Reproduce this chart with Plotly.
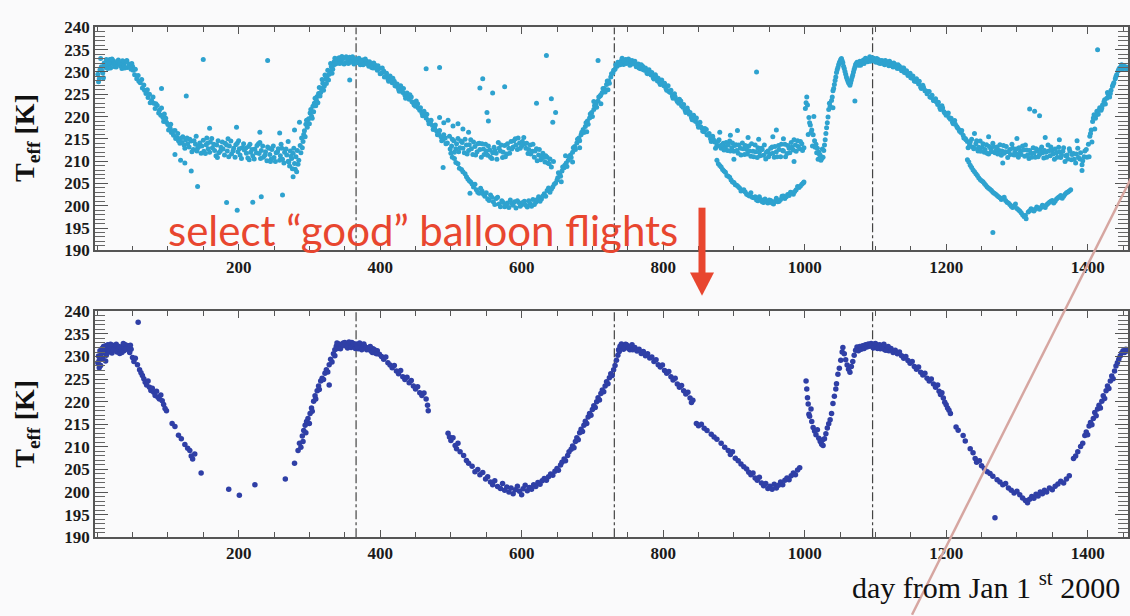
import plotly.graph_objects as go

# Effective temperature T_eff [K] per balloon flight, (day from Jan 1st 2000, T_eff)

# ---- all balloon flights ----
all_2000 = [
    (1, 229.5), (2, 227.8), (3, 228.5), (4, 230.5), (5, 233.0), (6, 231.2), (8, 229.8), (9, 228.7),
    (10, 232.0), (12, 231.0), (14, 232.4), (16, 231.5), (18, 232.8), (20, 231.9), (23, 232.5),
    (25, 231.2), (28, 232.0), (30, 232.7), (33, 231.4), (35, 230.8), (38, 231.6), (40, 232.3),
    (43, 231.0), (45, 231.8), (48, 230.6), (50, 231.3),
    (7, 230.2), (11, 231.5), (13, 232.8), (15, 230.8), (17, 232.1), (19, 230.9), (21, 232.9),
    (24, 231.6), (27, 231.1), (29, 232.4), (32, 232.0), (36, 232.5), (39, 230.9), (42, 232.6),
    (46, 231.1), (49, 231.9), (51, 230.4),
    (53, 229.4), (56, 228.5), (58, 229.2), (61, 227.6), (64, 226.4), (66, 227.1), (69, 225.2),
    (72, 224.3), (74, 225.0), (77, 223.6), (80, 223.0), (82, 221.8), (85, 222.5), (88, 221.4),
    (90, 220.3), (93, 219.8), (95, 220.6), (98, 218.7), (100, 218.2), (103, 217.5), (105, 216.4),
    (108, 215.8), (110, 216.9), (113, 215.3), (115, 214.6), (118, 215.1), (120, 214.2), (123, 213.6),
    (125, 214.8), (128, 213.9),
    (54, 230.6), (59, 227.9), (63, 228.3), (67, 225.9), (71, 226.0), (75, 223.1), (79, 224.4),
    (83, 222.9), (87, 220.8), (91, 221.9), (94, 218.9), (97, 219.6), (101, 217.0), (104, 218.3),
    (107, 216.8), (111, 215.1), (114, 216.2), (117, 214.0), (121, 215.5), (124, 212.9), (127, 215.2),
    (130, 213.2), (133, 214.5), (136, 212.6), (139, 213.8), (142, 212.9), (145, 214.1), (148, 213.4),
    (151, 212.2), (154, 213.7), (157, 212.8), (160, 214.3), (163, 213.0), (166, 212.4), (169, 213.6),
    (172, 211.9), (175, 213.1), (178, 212.7), (181, 214.0), (184, 212.3), (187, 213.4), (190, 211.6),
    (193, 212.9), (196, 213.7), (199, 212.1), (202, 211.4), (205, 213.0), (208, 212.5), (211, 211.8),
    (214, 213.3), (217, 212.0), (220, 211.2), (223, 212.7), (226, 213.5), (229, 211.7), (232, 212.4),
    (235, 210.9), (238, 212.1), (241, 213.2), (244, 211.5), (247, 212.6), (250, 210.8), (253, 211.9),
    (256, 212.8), (259, 211.2), (262, 210.4), (265, 212.0), (268, 211.4), (271, 209.8), (273, 212.3),
    (275, 210.6), (277, 211.8), (279, 209.5), (281, 211.0), (283, 212.4), (285, 210.2),
    (131, 214.9), (134, 212.1), (137, 214.6), (141, 212.3), (144, 213.3), (147, 211.8), (150, 214.7),
    (153, 211.7), (156, 214.0), (159, 212.0), (162, 215.1), (165, 213.8), (168, 211.2), (171, 214.6),
    (174, 212.2), (177, 214.3), (180, 211.4), (183, 213.6), (186, 211.0), (189, 214.5), (192, 212.3),
    (195, 210.9), (198, 214.0), (201, 212.8), (204, 210.6), (207, 213.9), (210, 212.9), (213, 210.7),
    (216, 213.8), (219, 212.6), (222, 210.5), (225, 211.9), (228, 213.9), (231, 210.6), (234, 213.4),
    (237, 211.3), (240, 210.1), (243, 212.9), (246, 210.5), (249, 213.4), (252, 209.9), (255, 212.1),
    (258, 210.2), (261, 212.9), (264, 209.6), (267, 212.7), (270, 210.0), (272, 208.9), (274, 211.1),
    (278, 212.9), (280, 208.2), (284, 209.3),
    (140, 215.6), (155, 215.2), (170, 210.8), (185, 215.0), (200, 214.6), (215, 210.3), (230, 214.2),
    (245, 209.9), (260, 213.8), (270, 214.4), (276, 208.3), (282, 207.6),
    (287, 213.5), (289, 215.2), (291, 214.4), (293, 216.8), (295, 218.3), (297, 217.6), (299, 219.5),
    (301, 220.8), (303, 220.1), (305, 222.3), (307, 223.0), (309, 222.4), (311, 224.5), (313, 225.2),
    (315, 224.6), (317, 226.3), (319, 227.5), (321, 226.8), (323, 228.4), (325, 229.0), (327, 228.2),
    (329, 230.1), (331, 231.2), (333, 230.6), (335, 232.3), (337, 231.8),
    (288, 211.9), (290, 213.0), (292, 216.0), (294, 215.5), (296, 219.2), (298, 218.5), (300, 218.4),
    (302, 221.6), (304, 219.6), (306, 221.1), (308, 224.1), (310, 223.6), (312, 223.1), (314, 226.5),
    (316, 225.4), (318, 228.3), (320, 225.9), (322, 229.3), (324, 227.4), (326, 230.4), (328, 229.5),
    (330, 231.9), (332, 229.7), (334, 231.5), (336, 233.1),
    (339, 232.9), (342, 233.2), (345, 232.4), (348, 233.0), (351, 232.1), (354, 232.8), (357, 233.3),
    (360, 232.5), (363, 231.8),
    (340, 232.0), (343, 231.9), (346, 233.5), (349, 231.8), (352, 233.4), (355, 231.9), (358, 232.2),
    (361, 233.4), (364, 232.7),
    (91, 226.3), (126, 224.6), (150, 232.8), (241, 232.6), (159, 217.4), (197, 217.6), (230, 216.5),
    (258, 216.3), (279, 217.0), (286, 218.7), (110, 211.5), (118, 210.2), (124, 209.6), (133, 207.8),
    (142, 204.3), (183, 200.7), (198, 199.0), (220, 200.8), (232, 202.0), (262, 202.4), (277, 206.5),
    (357, 228.2),
]

all_2001 = [
    (366, 232.9), (369, 232.2), (372, 231.6), (375, 232.7), (378, 231.9), (381, 232.4), (384, 231.3),
    (387, 231.8), (390, 230.9), (393, 231.5), (396, 230.4), (399, 230.8),
    (402, 229.7), (405, 230.2), (408, 229.0), (411, 228.4), (414, 229.1), (417, 227.6), (420, 227.9),
    (423, 226.8), (426, 226.2), (429, 226.9), (432, 225.4), (435, 224.8), (438, 225.3), (441, 223.9),
    (444, 224.4), (447, 223.1), (450, 222.3), (453, 222.9), (456, 221.4), (459, 220.8), (462, 221.2),
    (465, 219.7), (468, 219.1), (471, 218.6), (474, 218.0), (477, 217.4), (480, 216.7), (483, 216.1),
    (486, 215.5), (489, 214.8), (492, 215.2), (495, 214.1),
    (367, 232.1), (370, 233.1), (373, 232.4), (376, 231.6), (379, 232.9), (382, 231.8), (385, 232.3),
    (388, 231.0), (391, 232.0), (394, 230.9), (397, 231.4), (400, 229.6), (403, 230.9), (406, 228.9),
    (409, 229.7), (412, 227.9), (415, 228.2), (418, 228.6), (421, 226.9), (424, 227.3), (427, 225.7),
    (430, 226.0), (433, 226.3), (436, 224.1), (439, 224.5), (442, 224.9), (445, 223.3), (448, 222.6),
    (451, 223.5), (454, 221.9), (457, 222.0), (460, 220.2), (463, 220.4), (466, 220.5), (469, 218.4),
    (472, 219.2), (475, 217.1), (478, 218.1), (481, 215.9), (484, 216.9), (487, 214.6), (490, 215.9),
    (493, 213.9),
    (498, 215.6), (501, 213.4), (504, 214.6), (507, 212.8), (510, 215.1), (513, 213.0), (516, 214.2),
    (519, 211.9), (522, 213.6), (525, 212.4), (528, 214.8), (531, 211.5), (534, 213.3), (537, 212.1),
    (540, 214.0), (543, 210.9), (546, 212.7), (549, 213.8), (552, 211.3), (555, 212.5), (558, 210.6),
    (561, 213.1), (564, 211.8), (567, 214.2), (570, 212.3), (573, 210.8), (576, 213.5), (579, 211.6),
    (582, 212.9), (585, 214.4), (588, 213.2), (591, 215.0), (594, 212.6), (597, 214.1), (600, 213.4),
    (603, 215.3), (606, 212.9), (609, 211.7), (612, 213.6), (615, 212.2), (618, 210.9), (621, 212.8),
    (624, 211.4), (627, 210.3), (630, 211.8), (633, 209.8), (636, 210.9), (639, 209.4), (642, 208.7),
    (645, 209.9),
    (499, 212.7), (502, 214.9), (505, 212.0), (508, 213.9), (511, 212.1), (514, 214.5), (517, 212.9),
    (520, 214.9), (523, 211.6), (526, 213.7), (529, 212.8), (532, 214.3), (535, 211.4), (538, 213.9),
    (541, 212.6), (544, 213.9), (547, 211.5), (550, 212.3), (553, 213.4), (556, 210.9), (559, 211.9),
    (562, 212.4), (565, 210.4), (568, 212.9), (571, 213.6), (574, 212.0), (577, 211.0), (580, 213.9),
    (583, 211.8), (586, 212.7), (589, 214.6), (592, 213.6), (595, 215.2), (598, 212.9), (601, 214.4),
    (604, 213.9), (607, 214.0), (610, 212.6), (613, 211.6), (616, 213.8), (619, 212.3), (622, 210.1),
    (625, 212.6), (628, 211.0), (631, 210.8), (634, 211.2), (637, 209.6), (640, 210.5),
    (484, 219.8), (490, 218.6), (496, 219.2), (503, 217.9), (510, 218.4), (517, 217.2), (525, 216.5),
    (551, 220.9), (553, 219.0), (648, 220.9), (644, 218.7),
    (500, 211.8), (505, 210.6), (510, 209.4), (515, 208.1), (520, 207.2), (524, 206.0), (528, 205.3),
    (532, 204.2), (536, 203.6), (540, 202.8), (544, 203.3), (548, 202.1), (552, 201.5), (556, 202.4),
    (560, 200.9), (564, 201.6), (568, 200.4), (572, 201.1), (576, 199.8), (580, 200.6), (584, 201.3),
    (588, 200.1), (592, 199.5), (596, 200.7), (600, 200.2), (604, 201.0), (608, 199.7), (612, 200.5),
    (616, 201.4), (620, 200.8), (624, 202.0), (628, 201.5), (632, 202.7), (636, 203.4), (640, 203.0),
    (644, 204.2), (648, 205.1),
    (502, 210.9), (507, 209.7), (512, 208.4), (517, 207.6), (522, 206.5), (526, 205.6), (530, 204.9),
    (534, 204.8), (538, 203.0), (542, 203.9), (546, 202.6), (550, 202.9), (554, 201.2), (558, 201.9),
    (562, 200.3), (566, 201.9), (570, 199.8), (574, 200.7), (578, 200.1), (582, 199.6), (586, 200.5),
    (590, 200.9), (594, 201.1), (598, 199.9), (602, 200.8), (606, 200.1), (610, 201.1), (614, 199.9),
    (618, 200.3), (622, 201.4), (626, 201.0), (630, 202.2), (634, 202.1), (638, 204.0), (642, 203.7),
    (646, 204.8), (650, 205.8),
    (651, 206.3), (654, 207.0), (657, 207.8), (660, 208.5), (663, 209.6), (666, 210.2), (669, 211.4),
    (672, 212.0), (675, 213.3), (678, 214.1), (681, 215.2), (684, 215.9), (687, 217.1), (690, 217.8),
    (693, 219.0), (696, 219.7), (699, 220.9), (702, 221.6), (705, 222.8), (708, 223.5), (711, 224.6),
    (714, 225.4), (717, 226.3), (720, 227.2), (723, 228.0), (726, 228.9), (729, 229.8),
    (652, 207.4), (655, 206.6), (658, 208.7), (661, 209.1), (664, 208.8), (667, 211.0), (670, 210.8),
    (673, 213.0), (676, 212.6), (679, 214.9), (682, 214.6), (685, 216.5), (688, 216.4), (691, 218.6),
    (694, 218.3), (697, 220.6), (700, 220.0), (703, 222.4), (706, 222.1), (709, 224.4), (712, 224.9),
    (715, 226.3), (718, 225.5), (721, 228.0), (724, 227.5), (727, 229.6), (730, 230.4),
    (656, 205.4), (662, 211.2), (672, 209.8), (682, 213.0), (692, 216.6), (702, 223.4), (712, 222.9),
    (722, 226.0),
    (465, 230.7), (484, 231.0), (541, 226.4), (545, 228.5), (559, 225.3), (576, 226.7), (621, 223.0),
    (635, 233.7), (642, 224.0), (708, 232.6), (489, 208.6), (527, 202.8),
]

all_2002 = [
    (732, 230.6), (735, 231.3), (738, 232.0), (741, 232.5), (744, 231.7), (747, 232.8), (750, 232.3),
    (753, 231.5), (756, 232.6), (759, 231.9), (762, 231.2), (765, 231.8), (768, 230.7), (771, 231.3),
    (774, 230.4), (777, 229.8), (780, 230.5), (783, 229.3), (786, 228.7), (789, 229.4), (792, 228.0),
    (795, 227.6), (798, 228.2),
    (801, 226.9), (804, 226.3), (807, 226.9), (810, 225.4), (813, 224.6), (816, 225.1), (819, 223.8),
    (822, 223.0), (825, 223.5), (828, 222.1), (831, 221.4), (834, 221.9), (837, 220.5), (840, 219.8),
    (843, 220.3), (846, 218.9), (849, 218.2), (852, 218.7), (855, 217.4), (858, 216.6), (861, 217.1),
    (864, 215.8), (867, 215.0), (870, 215.6),
    (733, 231.6), (736, 232.2), (739, 231.6), (742, 233.1), (745, 232.4), (748, 231.9), (751, 232.9),
    (754, 232.4), (757, 231.8), (760, 232.4), (763, 231.6), (766, 230.9), (769, 231.6), (772, 230.5),
    (775, 230.9), (778, 229.6), (781, 229.9), (784, 229.9), (787, 228.4), (790, 228.9), (793, 228.6),
    (796, 227.2), (799, 227.4), (802, 227.5), (805, 225.9), (808, 225.6), (811, 225.9), (814, 224.1),
    (817, 224.4), (820, 223.4), (823, 223.9), (826, 222.4), (829, 222.7), (832, 220.9), (835, 221.3),
    (838, 220.9), (841, 219.3), (844, 219.2), (847, 219.7), (850, 217.6), (853, 217.7), (856, 216.7),
    (859, 217.3), (862, 215.9), (865, 216.2), (868, 214.4), (871, 214.9),
    (873, 214.3), (876, 213.5), (879, 214.8), (882, 212.9), (885, 214.0), (888, 213.2), (891, 212.4),
    (894, 214.5), (897, 213.0), (900, 212.2), (903, 213.7), (906, 211.8), (909, 212.9), (912, 214.1),
    (915, 211.5), (918, 212.6), (921, 213.4), (924, 211.1), (927, 212.2), (930, 213.6), (933, 210.8),
    (936, 212.0), (939, 212.9), (942, 211.3), (945, 210.5), (948, 212.3), (951, 211.6), (954, 213.2),
    (957, 210.9), (960, 212.1), (963, 213.5), (966, 211.0), (969, 212.4), (972, 213.8), (975, 211.7),
    (978, 212.9), (981, 214.2), (984, 212.5), (987, 213.6), (990, 214.6), (993, 212.8), (996, 213.9),
    (874, 212.9), (877, 214.4), (880, 213.4), (883, 213.7), (886, 212.5), (889, 214.2), (892, 213.6),
    (895, 212.3), (898, 214.1), (901, 213.5), (904, 212.4), (907, 213.6), (910, 211.4), (913, 212.8),
    (916, 213.5), (919, 211.6), (922, 212.3), (925, 213.9), (928, 211.0), (931, 212.1), (934, 213.0),
    (937, 211.2), (940, 212.6), (943, 213.6), (946, 212.0), (949, 211.0), (952, 212.9), (955, 211.8),
    (958, 213.3), (961, 211.0), (964, 212.6), (967, 213.8), (970, 212.3), (973, 211.0), (976, 213.5),
    (979, 211.9), (982, 213.2), (985, 214.8), (988, 212.2), (991, 213.3), (994, 214.4), (997, 212.4),
    (999, 213.0),
    (880, 216.5), (895, 215.8), (905, 216.9), (920, 215.3), (935, 214.9), (955, 215.5), (970, 215.0),
    (985, 209.9), (900, 210.4),
    (876, 210.2), (880, 209.0), (884, 208.1), (888, 207.5), (892, 206.6), (896, 205.8), (900, 205.2),
    (904, 204.6), (908, 204.0), (912, 203.5), (916, 203.1), (920, 202.4), (924, 202.9), (928, 201.8),
    (932, 201.3), (936, 202.0), (940, 200.9), (944, 201.5), (948, 200.6), (952, 201.2), (956, 200.4),
    (960, 201.7), (964, 201.0), (968, 202.1), (972, 201.6), (976, 202.5), (980, 203.0), (984, 202.6),
    (988, 203.6), (992, 204.1), (996, 204.8), (999, 205.3),
    (878, 209.4), (882, 208.7), (886, 207.8), (890, 206.8), (894, 206.4), (898, 205.3), (902, 204.7),
    (906, 204.3), (910, 203.3), (914, 203.6), (918, 202.6), (922, 202.2), (926, 201.9), (930, 202.0),
    (934, 201.1), (938, 201.4), (942, 200.7), (946, 201.0), (950, 201.3), (954, 200.6), (958, 201.0),
    (962, 200.9), (966, 201.4), (970, 202.2), (974, 202.0), (978, 202.3), (982, 202.9), (986, 203.2),
    (990, 204.3), (994, 204.4), (998, 205.1),
    (1001, 221.8), (1003, 224.4), (1004, 222.6), (1005, 216.0), (1006, 219.8), (1008, 218.1),
    (1010, 217.0), (1011, 213.4), (1012, 215.9), (1013, 220.0), (1014, 214.6), (1016, 213.8),
    (1018, 212.9), (1019, 210.4), (1020, 212.0), (1022, 211.3), (1024, 210.6), (1025, 212.7),
    (1026, 210.9), (1027, 212.4), (1029, 214.8), (1031, 217.5), (1033, 219.9), (1034, 221.6),
    (1036, 222.3),
    (1002, 223.1), (1007, 218.6), (1009, 216.4), (1015, 213.1), (1017, 211.9), (1021, 211.5),
    (1023, 210.2), (1028, 213.6), (1030, 216.2), (1032, 218.6), (1035, 223.0),
    (1038, 223.6), (1040, 225.8), (1042, 227.2), (1044, 228.9), (1046, 230.5), (1048, 231.6),
    (1050, 232.4), (1052, 233.0), (1054, 232.1), (1056, 230.8), (1058, 229.5), (1060, 228.4),
    (1062, 227.6), (1064, 227.0), (1066, 228.2), (1068, 229.3), (1070, 230.6), (1072, 231.7),
    (1074, 232.2), (1076, 231.5), (1078, 232.4), (1080, 231.8), (1083, 232.7), (1086, 233.1),
    (1089, 232.3), (1092, 233.4), (1095, 232.6),
    (1039, 224.4), (1041, 226.3), (1043, 228.1), (1045, 229.9), (1047, 231.0), (1049, 232.1),
    (1051, 232.8), (1053, 232.5), (1055, 231.3), (1057, 230.1), (1059, 228.9), (1061, 228.0),
    (1063, 227.4), (1065, 227.6), (1067, 228.8), (1069, 230.0), (1071, 231.1), (1073, 231.9),
    (1075, 231.8), (1077, 232.1), (1079, 231.5), (1081, 232.3), (1084, 231.9), (1087, 232.5),
    (1090, 232.9), (1093, 232.4),
    (932, 230.0), (960, 217.0), (1071, 223.5), (1040, 222.0),
]

all_2003 = [
    (1096, 233.2), (1098, 233.0), (1101, 232.2), (1104, 232.8), (1107, 231.9), (1110, 232.5),
    (1113, 231.6), (1116, 232.3), (1119, 231.4), (1122, 232.0), (1125, 231.1), (1128, 231.7),
    (1131, 230.8), (1134, 231.3), (1137, 230.3), (1140, 230.9), (1143, 229.8), (1146, 229.2),
    (1149, 229.7), (1152, 228.6), (1155, 228.0), (1158, 228.5), (1161, 227.3), (1164, 226.6),
    (1167, 227.0), (1170, 225.8), (1173, 225.1), (1176, 225.6), (1179, 224.3), (1182, 223.6),
    (1185, 224.0), (1188, 222.7), (1191, 222.0), (1194, 222.4), (1197, 221.1), (1200, 220.3),
    (1203, 220.8), (1206, 219.4), (1209, 218.7), (1212, 219.1), (1215, 217.8), (1218, 217.1),
    (1221, 216.4), (1224, 215.8), (1227, 215.1),
    (1099, 232.4), (1102, 233.0), (1105, 232.0), (1108, 232.6), (1111, 231.9), (1114, 232.6),
    (1117, 231.8), (1120, 232.4), (1123, 231.4), (1126, 232.0), (1129, 231.1), (1132, 231.6),
    (1135, 230.7), (1138, 230.9), (1141, 229.9), (1144, 230.3), (1147, 229.5), (1150, 228.7),
    (1153, 229.1), (1156, 227.9), (1159, 227.8), (1162, 227.9), (1165, 226.3), (1168, 226.5),
    (1171, 225.8), (1174, 225.6), (1177, 224.4), (1180, 224.8), (1183, 223.6), (1186, 223.3),
    (1189, 223.2), (1192, 221.6), (1195, 221.9), (1198, 220.8), (1201, 220.7), (1204, 219.8),
    (1207, 219.6), (1210, 218.4), (1213, 218.3), (1216, 217.5), (1219, 216.7), (1222, 216.9),
    (1225, 215.2), (1228, 214.8),
    (1230, 214.4), (1233, 213.6), (1236, 214.9), (1239, 212.8), (1242, 213.9), (1245, 212.3),
    (1248, 214.5), (1251, 213.1), (1254, 212.0), (1257, 213.7), (1260, 211.6), (1263, 212.8),
    (1266, 214.0), (1269, 211.9), (1272, 213.2), (1275, 212.4), (1278, 211.3), (1281, 213.5),
    (1284, 212.1), (1287, 210.8), (1290, 212.6), (1293, 213.8), (1296, 211.4), (1299, 212.7),
    (1302, 210.9), (1305, 212.2), (1308, 213.4), (1311, 211.1), (1314, 212.5), (1317, 210.6),
    (1320, 211.8), (1323, 213.0), (1326, 210.9), (1329, 212.3), (1332, 211.5), (1335, 213.2),
    (1338, 210.7), (1341, 212.0), (1344, 213.6), (1347, 211.2), (1350, 212.4), (1353, 210.4),
    (1356, 211.9), (1359, 213.1), (1362, 210.8), (1365, 212.2), (1368, 209.9), (1371, 211.4),
    (1374, 212.8), (1377, 210.3), (1380, 211.7), (1383, 209.6), (1386, 212.9), (1389, 210.5),
    (1392, 209.2), (1395, 211.0), (1398, 212.6),
    (1231, 213.0), (1234, 214.3), (1237, 213.2), (1240, 212.9), (1243, 214.6), (1246, 213.1),
    (1249, 212.2), (1252, 213.9), (1255, 212.6), (1258, 211.8), (1261, 213.3), (1264, 212.1),
    (1267, 213.3), (1270, 212.4), (1273, 211.6), (1276, 213.7), (1279, 212.3), (1282, 211.8),
    (1285, 213.3), (1288, 212.1), (1291, 211.5), (1294, 212.9), (1297, 212.0), (1300, 211.6),
    (1303, 213.0), (1306, 211.5), (1309, 212.5), (1312, 213.6), (1315, 211.4), (1318, 212.4),
    (1321, 210.9), (1324, 211.8), (1327, 212.8), (1330, 211.0), (1333, 212.6), (1336, 211.9),
    (1339, 212.4), (1342, 210.9), (1345, 212.3), (1348, 213.2), (1351, 211.6), (1354, 212.7),
    (1357, 210.9), (1360, 212.1), (1363, 211.4), (1366, 213.0), (1369, 211.2), (1372, 210.5),
    (1375, 212.2), (1378, 211.5), (1381, 210.4), (1384, 211.6), (1387, 210.8), (1390, 211.9),
    (1393, 210.1), (1396, 212.3), (1399, 210.9),
    (1240, 216.2), (1260, 215.5), (1280, 209.6), (1300, 215.1), (1340, 215.3), (1360, 214.8),
    (1385, 214.6), (1392, 207.9),
    (1230, 210.3), (1234, 209.1), (1238, 208.0), (1242, 207.2), (1246, 206.3), (1250, 205.6),
    (1254, 205.0), (1258, 204.2), (1262, 203.7), (1266, 203.0), (1270, 202.6), (1274, 202.0),
    (1278, 201.4), (1282, 201.9), (1286, 200.8), (1290, 200.3), (1294, 199.6), (1298, 200.4),
    (1302, 199.1), (1306, 198.4), (1310, 197.6), (1313, 197.1), (1316, 198.6), (1320, 199.3),
    (1324, 198.8), (1328, 199.7), (1332, 199.2), (1336, 200.1), (1340, 199.6), (1344, 200.5),
    (1348, 201.0), (1352, 200.6), (1356, 201.5), (1360, 202.0), (1364, 201.7), (1368, 202.6),
    (1372, 203.1), (1376, 203.6),
    (1232, 209.8), (1236, 208.6), (1240, 207.6), (1244, 206.8), (1248, 205.9), (1252, 205.4),
    (1256, 204.6), (1260, 203.9), (1264, 203.4), (1268, 202.8), (1272, 202.3), (1276, 201.8),
    (1280, 201.7), (1284, 201.2), (1288, 200.6), (1292, 199.9), (1296, 200.0), (1300, 199.4),
    (1304, 198.8), (1308, 198.0), (1312, 197.8), (1318, 198.9), (1322, 199.1), (1326, 199.2),
    (1330, 199.5), (1334, 199.6), (1338, 199.9), (1342, 200.2), (1346, 200.8), (1350, 201.2),
    (1354, 201.0), (1358, 201.8), (1362, 202.3), (1366, 202.1), (1370, 202.9), (1374, 203.3),
    (1401, 213.8), (1402, 211.0), (1403, 215.6), (1405, 217.0), (1406, 214.3), (1407, 218.9),
    (1409, 220.4), (1410, 217.2), (1411, 219.6), (1413, 221.2), (1415, 220.5), (1417, 222.0),
    (1419, 221.4), (1421, 222.6), (1423, 223.3), (1425, 222.8), (1427, 224.1), (1429, 225.0),
    (1431, 224.4), (1433, 225.9), (1435, 226.8), (1437, 227.6), (1439, 228.5), (1441, 229.4),
    (1443, 230.2), (1445, 230.9), (1447, 231.2), (1449, 230.6), (1451, 231.4), (1453, 230.8),
    (1455, 231.1),
    (1404, 216.2), (1408, 219.7), (1412, 220.3), (1416, 221.4), (1420, 221.9), (1424, 223.8),
    (1428, 225.4), (1432, 225.2), (1436, 227.2), (1440, 229.0), (1444, 230.6), (1448, 231.6),
    (1452, 231.0), (1456, 230.7),
    (1266, 194.0), (1414, 235.0), (1318, 221.7), (1325, 221.2), (1332, 220.2),
]

# ---- selected ("good") balloon flights ----
good_2000 = [
    (1, 228.6), (2, 230.1), (3, 229.2), (4, 231.3), (5, 228.0), (6, 230.6), (7, 231.8), (8, 229.5),
    (9, 232.2), (10, 230.9), (11, 231.6), (12, 232.4), (13, 230.3), (14, 231.9), (15, 232.6),
    (16, 231.2), (18, 232.0), (20, 231.4), (22, 232.5), (24, 231.7), (26, 232.3), (28, 231.0),
    (30, 231.8), (32, 230.7), (34, 231.5), (36, 232.1), (38, 231.3), (40, 232.6), (42, 231.9),
    (44, 232.4), (46, 230.9), (48, 231.6), (50, 229.8), (52, 228.9), (54, 229.6), (3, 227.5),
    (12, 229.0),
    (17, 231.0), (19, 232.7), (21, 230.8), (23, 231.4), (27, 232.7), (31, 232.2), (35, 230.9),
    (37, 232.9), (41, 231.6), (45, 232.0), (47, 232.5),
    (57, 228.2), (60, 227.1), (62, 226.4), (64, 225.8), (66, 225.1), (68, 224.3), (70, 223.7),
    (72, 224.6), (74, 223.2), (76, 222.5), (78, 223.0), (80, 222.1), (82, 221.4), (84, 222.3),
    (86, 221.0), (88, 220.6), (90, 221.5), (92, 220.2), (94, 219.4), (96, 218.5), (98, 218.0),
    (106, 215.2), (110, 214.5), (115, 212.6), (119, 211.8), (124, 210.5), (128, 209.7), (131, 209.2),
    (133, 208.0), (135, 207.3), (138, 208.4), (147, 204.2), (186, 200.6), (201, 199.3), (223, 201.6),
    (266, 202.9), (279, 206.4),
    (284, 209.2), (286, 210.8), (288, 209.9), (290, 212.4), (291, 211.2), (292, 213.6), (294, 214.8),
    (295, 213.1), (296, 215.6), (298, 216.3), (300, 215.2), (301, 217.4), (303, 218.6), (304, 217.9),
    (306, 220.1), (308, 221.3), (309, 220.6), (311, 222.4), (313, 223.5), (314, 222.7), (316, 224.6),
    (318, 225.2), (320, 224.9), (322, 226.3), (324, 227.1), (326, 226.6), (328, 228.2), (330, 229.4),
    (332, 228.8), (334, 230.6), (336, 231.5), (338, 232.3), (340, 231.8), (328, 223.7),
    (342, 232.8), (345, 232.2), (348, 233.0), (351, 232.4), (354, 231.9), (357, 232.7), (360, 233.1),
    (363, 232.3),
    (336, 230.2), (339, 233.0), (344, 231.7), (347, 232.6), (350, 233.1), (353, 232.2), (356, 233.2),
    (359, 232.0), (362, 232.9), (365, 231.8),
    (58, 237.6),
]

good_2001 = [
    (366, 232.8), (369, 231.7), (372, 232.4), (375, 231.8), (378, 232.3), (381, 231.5), (384, 232.0),
    (387, 231.2), (390, 231.7), (393, 230.8), (396, 231.3), (399, 230.5),
    (368, 232.2), (371, 233.0), (374, 231.5), (377, 232.8), (380, 232.0), (383, 231.6), (386, 232.2),
    (389, 230.9), (392, 231.5), (395, 230.6),
    (402, 230.0), (405, 229.4), (408, 229.9), (411, 228.6), (414, 228.1), (417, 227.5), (420, 228.0),
    (423, 226.8), (426, 226.2), (429, 226.9), (432, 225.5), (435, 224.9), (438, 225.4), (441, 224.2),
    (444, 224.7), (447, 223.5), (450, 222.8), (453, 223.3), (456, 222.0), (459, 221.4), (462, 221.9),
    (465, 220.6), (467, 219.2), (468, 218.0),
    (496, 213.0), (498, 212.2), (500, 211.4), (503, 212.0), (506, 210.3), (508, 209.6), (510, 210.8),
    (513, 208.9), (518, 208.1), (522, 207.0), (525, 206.4), (530, 205.7), (534, 204.5), (538, 205.0),
    (541, 203.8), (545, 204.3), (549, 202.9), (552, 203.4), (556, 202.2), (559, 201.6), (562, 202.5),
    (566, 201.2), (570, 200.8), (573, 201.9), (576, 200.4), (579, 201.1), (582, 200.0), (585, 200.9),
    (588, 199.6), (591, 200.5), (594, 201.3), (597, 200.2), (600, 199.4), (602, 200.7), (605, 201.5),
    (608, 200.3), (611, 201.0), (614, 200.6), (617, 201.6), (620, 201.2), (623, 202.1), (626, 201.7),
    (629, 202.5), (632, 203.0), (635, 202.6), (638, 203.4), (641, 204.0), (644, 203.7), (647, 204.6),
    (650, 205.2), (652, 204.8), (655, 206.0), (657, 206.6), (660, 207.3), (662, 206.9), (665, 208.1),
    (667, 208.9), (670, 209.5), (672, 210.2), (674, 209.8), (676, 211.2), (678, 212.0), (680, 211.6),
    (682, 213.1), (684, 213.9), (686, 213.4), (688, 214.8), (690, 215.7), (692, 215.2), (694, 216.6),
    (696, 217.4), (698, 217.0), (700, 218.3), (702, 219.1), (704, 218.7), (706, 220.0), (708, 220.9),
    (710, 220.4), (712, 221.8), (714, 222.6), (716, 222.2), (718, 223.5), (720, 224.4), (722, 224.0),
    (724, 225.3), (726, 226.2), (728, 225.8), (730, 227.1),
]

good_2002 = [
    (732, 228.0), (734, 229.2), (736, 230.3), (738, 231.1), (740, 231.8),
    (737, 231.5), (739, 232.3), (741, 232.8), (744, 231.6), (747, 232.7), (750, 232.3), (753, 231.5),
    (756, 232.6),
    (742, 232.4), (745, 232.0), (748, 232.6), (751, 231.8), (754, 232.3), (757, 231.5), (760, 232.0),
    (763, 231.2), (766, 231.6), (769, 230.7), (772, 231.1), (775, 230.2), (778, 230.6), (781, 229.7),
    (784, 229.9), (787, 228.9), (790, 229.3), (793, 228.2), (796, 227.7), (799, 228.1), (802, 226.9),
    (805, 226.3), (808, 226.7), (811, 225.5), (814, 224.8), (817, 225.2), (820, 223.9), (823, 223.2),
    (826, 223.6), (829, 222.4), (832, 221.7), (835, 222.1), (838, 220.8), (840, 219.8), (842, 220.3),
    (847, 215.2), (850, 214.7), (854, 215.0), (858, 214.1), (862, 213.6), (868, 212.8), (872, 212.2),
    (876, 211.7), (882, 210.8), (887, 209.9), (892, 209.2), (895, 208.3), (898, 208.9), (902, 207.5),
    (906, 206.9), (910, 206.2), (914, 205.6), (918, 205.1), (921, 204.4), (924, 203.8), (927, 204.2),
    (930, 203.1), (933, 202.6), (936, 203.3), (939, 202.0), (942, 201.4), (945, 201.9), (948, 200.8),
    (951, 201.3), (954, 200.6), (957, 201.7), (960, 200.9), (963, 201.5), (966, 202.2), (969, 201.6),
    (972, 202.6), (975, 203.1), (978, 202.7), (981, 203.6), (984, 204.2), (987, 203.8), (990, 204.9),
    (993, 205.4),
    (1002, 224.6), (1003, 222.8), (1004, 220.9), (1005, 219.5), (1006, 217.2), (1007, 216.8),
    (1009, 218.4), (1010, 215.6), (1012, 214.3), (1014, 213.5), (1016, 212.7), (1018, 213.8),
    (1020, 211.9), (1022, 211.2), (1024, 210.6), (1025, 211.5), (1026, 210.3), (1028, 211.8),
    (1030, 212.9), (1032, 214.2), (1034, 215.1), (1036, 216.0), (1038, 217.4), (1040, 219.6),
    (1042, 221.2), (1044, 222.8), (1045, 224.0), (1047, 226.1), (1049, 227.4), (1051, 229.2),
    (1053, 231.0), (1054, 232.0), (1056, 230.6), (1058, 229.3), (1060, 228.1), (1062, 227.2),
    (1064, 226.5), (1066, 227.8), (1068, 228.9), (1070, 230.3), (1072, 231.4), (1074, 232.1),
    (1076, 231.3), (1078, 232.2), (1080, 231.6), (1082, 232.4), (1084, 231.8), (1086, 232.6),
    (1088, 232.1), (1090, 232.8), (1092, 232.3), (1094, 232.9),
]

good_2003 = [
    (1096, 232.4), (1098, 232.7), (1101, 232.1), (1104, 232.5), (1107, 231.7), (1110, 232.3),
    (1113, 231.5), (1116, 232.0), (1119, 231.3), (1122, 231.8), (1125, 230.9), (1128, 231.4),
    (1131, 230.6), (1134, 231.0), (1137, 230.2), (1140, 229.6), (1143, 230.0), (1146, 229.1),
    (1149, 228.5), (1152, 228.9), (1155, 227.8), (1158, 227.2), (1161, 227.7), (1164, 226.5),
    (1167, 225.9), (1170, 226.3), (1173, 225.2), (1176, 224.6), (1179, 225.0), (1182, 223.9),
    (1185, 223.2), (1188, 223.7), (1190, 222.3), (1192, 221.6), (1194, 222.0), (1196, 220.8),
    (1198, 219.9), (1200, 219.3), (1202, 218.6), (1204, 218.1), (1206, 217.4),
    (1097, 231.9), (1100, 232.9), (1103, 231.8), (1106, 232.6), (1109, 231.9), (1112, 232.7),
    (1115, 231.4), (1118, 232.2),
    (1214, 214.4), (1217, 213.7), (1224, 212.5), (1227, 211.3), (1234, 209.6), (1238, 208.7),
    (1241, 207.4), (1243, 206.6), (1247, 206.9), (1250, 205.8), (1254, 205.2), (1258, 204.5),
    (1262, 204.1), (1266, 203.5), (1269, 194.3), (1272, 202.7), (1276, 202.2), (1280, 201.6),
    (1284, 201.9), (1288, 200.9), (1292, 200.4), (1296, 199.8), (1300, 200.2), (1304, 199.4),
    (1308, 198.7), (1312, 198.1), (1315, 197.6), (1318, 198.4), (1321, 199.0), (1324, 198.6),
    (1327, 199.5), (1330, 199.1), (1333, 200.0), (1336, 199.6), (1339, 200.4), (1342, 200.0),
    (1346, 200.9), (1350, 200.5), (1354, 201.3), (1358, 201.8), (1362, 202.4), (1366, 202.0),
    (1370, 202.9), (1374, 203.6),
    (1380, 207.4), (1383, 208.0), (1386, 208.9), (1390, 210.1), (1393, 210.8), (1396, 212.5),
    (1398, 213.3), (1400, 212.7), (1402, 214.6), (1404, 215.4), (1406, 214.9), (1408, 216.3),
    (1410, 217.6), (1412, 216.9), (1414, 218.4), (1416, 219.2), (1418, 218.6), (1420, 220.1),
    (1422, 221.3), (1424, 220.7), (1426, 222.4), (1428, 223.5), (1430, 222.9), (1432, 224.6),
    (1434, 225.7), (1436, 225.1), (1438, 226.8), (1440, 227.9), (1442, 228.6), (1444, 229.4),
    (1446, 230.1), (1448, 230.8), (1450, 231.3), (1452, 230.9), (1454, 231.6), (1456, 231.2),
]

year_starts = [366, 731, 1096]
x_ticks = [200, 400, 600, 800, 1000, 1200, 1400]
y_ticks = [190, 195, 200, 205, 210, 215, 220, 225, 230, 235, 240]

W, H = 1130, 616


def px_x(v):
    return v / W


def px_y(v):
    return 1 - v / H


def unzip(*groups):
    pts = [p for g in groups for p in g]
    return [p[0] for p in pts], [p[1] for p in pts]


all_day, all_teff = unzip(all_2000, all_2001, all_2002, all_2003)
good_day, good_teff = unzip(good_2000, good_2001, good_2002, good_2003)

fig = go.Figure()
fig.add_trace(go.Scatter(
    x=all_day, y=all_teff, mode="markers", xaxis="x", yaxis="y",
    marker=dict(size=5, color="#2ea2cf", line=dict(width=0)), showlegend=False,
))
fig.add_trace(go.Scatter(
    x=good_day, y=good_teff, mode="markers", xaxis="x2", yaxis="y2",
    marker=dict(size=5.5, color="#2f3fa6", line=dict(width=0)), showlegend=False,
))

tick_font = dict(family="Liberation Serif", size=17, color="#1a1a1a", weight="bold")
axis_common = dict(
    showline=True, linecolor="#555555", linewidth=1.6, mirror="ticks",
    ticks="inside", tickcolor="#555555", tickwidth=1.4,
    showgrid=False, zeroline=False, tickfont=tick_font,
)
x_common = dict(
    axis_common, range=[-3, 1457], tickmode="array", tickvals=x_ticks,
    ticktext=[str(v) for v in x_ticks], ticklen=7,
    minor=dict(tickmode="linear", tick0=0, dtick=50, ticks="inside", ticklen=5,
               tickcolor="#555555", tickwidth=1.2),
)
y_common = dict(
    axis_common, range=[190, 240], tickmode="array", tickvals=y_ticks,
    ticktext=[str(v) for v in y_ticks], ticklen=13,
    minor=dict(tickmode="linear", tick0=190, dtick=1, ticks="inside", ticklen=10,
               tickcolor="#666666", tickwidth=1.4),
)

x_dom = [px_x(95), px_x(1128)]
fig.update_layout(
    width=W, height=H,
    margin=dict(l=0, r=0, t=0, b=0),
    paper_bgcolor="#fafafb", plot_bgcolor="#fafafb",
    xaxis=dict(x_common, domain=x_dom, anchor="y"),
    yaxis=dict(y_common, domain=[px_y(249), px_y(19)], anchor="x"),
    xaxis2=dict(x_common, domain=x_dom, anchor="y2"),
    yaxis2=dict(y_common, domain=[px_y(545), px_y(312)], anchor="x2"),
)

# year boundaries
for xr, yr in (("x", "y domain"), ("x2", "y2 domain")):
    for d in year_starts:
        fig.add_shape(type="line", xref=xr, yref=yr, x0=d, x1=d, y0=0, y1=1,
                      line=dict(color="#444444", width=1.2, dash="dashdot"), layer="below")

# axis titles
for yc in (133, 428):
    fig.add_annotation(
        xref="paper", yref="paper", x=px_x(27), y=px_y(yc), textangle=-90,
        text="T<sub>eff</sub> [K]", showarrow=False, xanchor="center", yanchor="middle",
        font=dict(family="Liberation Serif", size=28, color="#111111", weight="bold"),
    )

fig.add_annotation(
    xref="paper", yref="paper", x=px_x(850), y=px_y(594), xanchor="left", yanchor="middle",
    text="day from Jan 1 <sup>st</sup> 2000", showarrow=False,
    font=dict(family="Liberation Serif", size=30, color="#111111"),
)

# selection note with arrow
fig.add_annotation(
    xref="paper", yref="paper", x=px_x(166), y=px_y(228), xanchor="left", yanchor="middle",
    text="select \u201cgood\u201d balloon flights", showarrow=False,
    font=dict(family="Lato", size=42, color="#e8462f"),
)
fig.add_shape(type="rect", xref="paper", yref="paper",
              x0=px_x(698.5), x1=px_x(705.5), y0=px_y(276), y1=px_y(205),
              fillcolor="#e8462f", line=dict(width=0))
fig.add_shape(type="path", xref="paper", yref="paper",
              path=f"M {px_x(690)} {px_y(272)} L {px_x(714)} {px_y(272)} L {px_x(702)} {px_y(296)} Z",
              fillcolor="#e8462f", line=dict(width=0))

# diagonal guide line
fig.add_shape(type="line", xref="paper", yref="paper",
              x0=px_x(1135), y0=px_y(166.5), x1=px_x(912), y1=px_y(625),
              line=dict(color="#d6a6a1", width=2.5))

fig.write_html("out.html")
